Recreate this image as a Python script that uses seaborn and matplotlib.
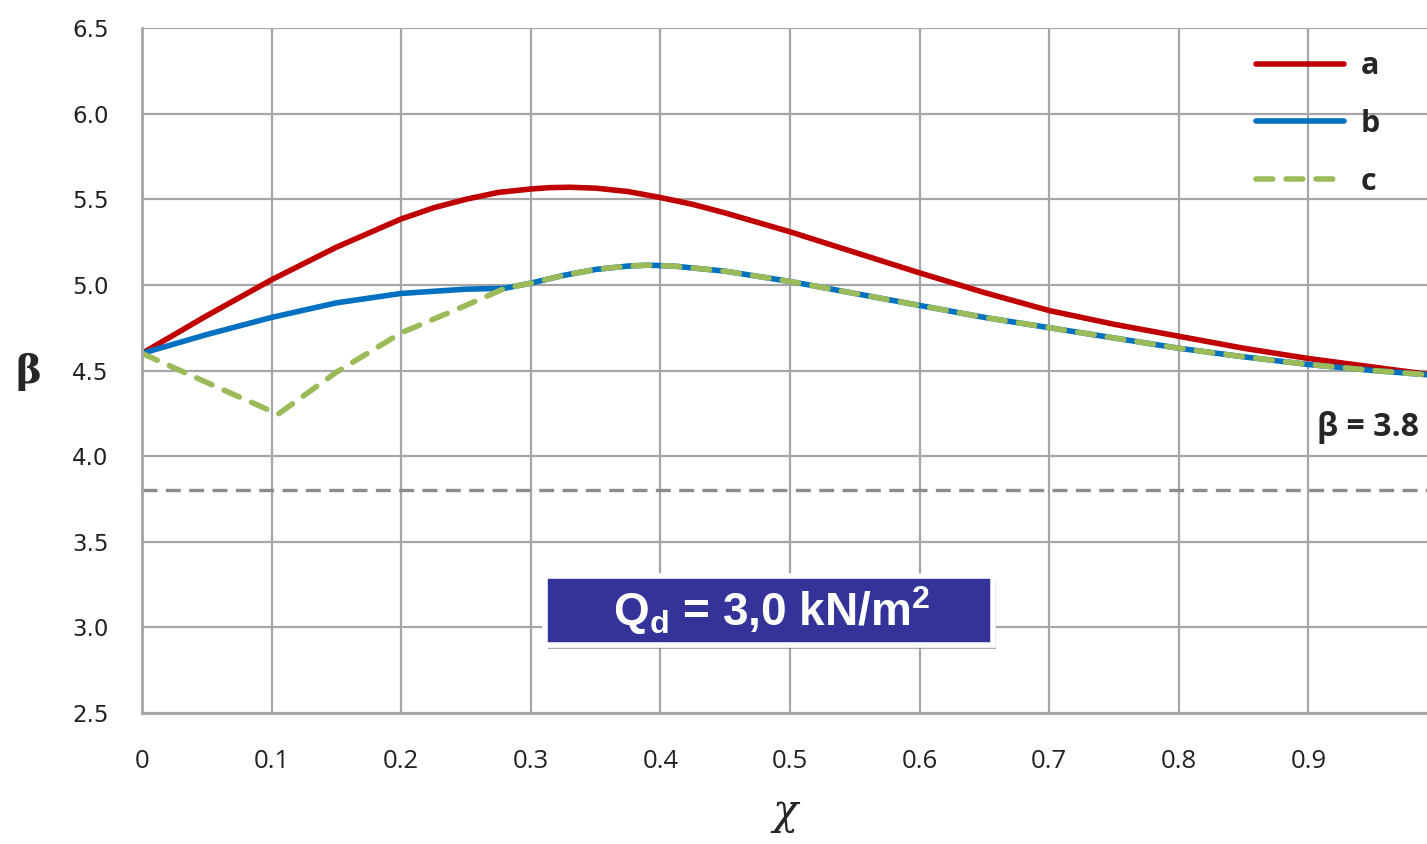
import numpy as np
import pandas as pd
import matplotlib
matplotlib.use("Agg")
import matplotlib.pyplot as plt
import matplotlib.patheffects as pe
from matplotlib.patches import Rectangle
import seaborn as sns

# values
x_a = [0, 0.05, 0.1, 0.15, 0.2, 0.225, 0.25, 0.275, 0.3, 0.315, 0.33, 0.35, 0.375,
       0.4, 0.425, 0.45, 0.475, 0.5, 0.55, 0.6, 0.65, 0.7, 0.75, 0.8, 0.85, 0.9,
       0.95, 1.0]
beta_a = [4.60, 4.82, 5.03, 5.22, 5.385, 5.45, 5.50, 5.54, 5.56, 5.568, 5.57, 5.565,
          5.545, 5.51, 5.47, 5.42, 5.365, 5.31, 5.19, 5.07, 4.955, 4.85, 4.77, 4.70,
          4.63, 4.57, 4.52, 4.47]

x_b = [0, 0.05, 0.1, 0.15, 0.2, 0.25, 0.28, 0.3, 0.325, 0.35, 0.375, 0.39, 0.41,
       0.45, 0.475, 0.5, 0.55, 0.6, 0.65, 0.7, 0.75, 0.8, 0.85, 0.9, 0.95, 1.0]
beta_b = [4.60, 4.71, 4.81, 4.895, 4.95, 4.975, 4.98, 5.01, 5.055, 5.09, 5.11, 5.115,
          5.11, 5.08, 5.05, 5.02, 4.95, 4.88, 4.81, 4.75, 4.69, 4.63, 4.58, 4.535,
          4.50, 4.47]

x_c = [0, 0.05, 0.105, 0.15, 0.2, 0.25, 0.28, 0.3, 0.325, 0.35, 0.375, 0.39, 0.41,
       0.45, 0.475, 0.5, 0.55, 0.6, 0.65, 0.7, 0.75, 0.8, 0.85, 0.9, 0.95, 1.0]
beta_c = [4.60, 4.43, 4.245, 4.49, 4.72, 4.88, 4.98, 5.01, 5.055, 5.09, 5.11, 5.115,
          5.11, 5.08, 5.05, 5.02, 4.95, 4.88, 4.81, 4.75, 4.69, 4.63, 4.58, 4.535,
          4.50, 4.47]

beta_target = 3.8
x_ticks = [0, 0.1, 0.2, 0.3, 0.4, 0.5, 0.6, 0.7, 0.8, 0.9]
x_tick_labels = ["0", "0.1", "0.2", "0.3", "0.4", "0.5", "0.6", "0.7", "0.8", "0.9"]
y_ticks = [2.5, 3.0, 3.5, 4.0, 4.5, 5.0, 5.5, 6.0, 6.5]

sns.set_theme(style="whitegrid")
plt.rcParams["font.family"] = ["DejaVu Sans"]
plt.rcParams["mathtext.fontset"] = "custom"
plt.rcParams["mathtext.rm"] = "Liberation Sans:bold"
plt.rcParams["mathtext.bf"] = "Liberation Sans:bold"

fig = plt.figure(figsize=(14.27, 8.44), dpi=100)
ax = fig.add_axes([142 / 1427, 131 / 844, 1 - 142 / 1427, 685 / 844])

red = "#C00000"
blue = "#0070C0"
green = "#9BBB59"

sns.lineplot(x=x_a, y=beta_a, ax=ax, color=red, lw=4, label="a", sort=False,
             solid_joinstyle="round")
sns.lineplot(x=x_b, y=beta_b, ax=ax, color=blue, lw=4, label="b", sort=False,
             solid_joinstyle="round")
sns.lineplot(x=x_c, y=beta_c, ax=ax, color=green, lw=4, label="c", sort=False,
             linestyle=(0, (3.0, 2.4)), dash_capstyle="round", dash_joinstyle="round")

ax.axhline(beta_target, color="#8c8c8c", lw=2.4, linestyle=(0, (4.5, 2.5)), zorder=1)

ax.set_xlim(0, (1427 - 142) / 1296)
ax.set_ylim(2.5, 6.5)
ax.set_xticks(x_ticks)
ax.set_xticklabels(x_tick_labels, fontsize=18.5, family="Open Sans")
ax.set_yticks(y_ticks)
ax.set_yticklabels([f"{v:.1f}" for v in y_ticks], fontsize=16.5)
ax.tick_params(axis="both", length=0, colors="#222222")
ax.tick_params(axis="y", pad=24)
ax.tick_params(axis="x", pad=26)

ax.grid(True, color="#a6a6a6", lw=1.6)
for s in ["top", "right"]:
    ax.spines[s].set_visible(False)
for s in ["left", "bottom"]:
    ax.spines[s].set_color("#a6a6a6")
    ax.spines[s].set_linewidth(2)

ax.set_xlabel("χ", fontsize=30, family="DejaVu Serif", style="italic")
ax.xaxis.set_label_coords((785 - 142) / 1285, -(812 - 713) / 685)
ax.set_ylabel("β", fontsize=28, family="DejaVu Serif", weight="bold", rotation=0)
ax.yaxis.set_label_coords(-(142 - 28) / 1285, (713 - 372) / 685)
ax.xaxis.label.set_va("center")
ax.yaxis.label.set_va("center")

ax.text(0.907, 4.17, "β = 3.8", fontsize=23, weight="bold", ha="left", va="center",
        family="Open Sans")

leg = ax.legend(loc="upper left", bbox_to_anchor=(1228 / 1427, 1 - 24 / 844),
                bbox_transform=fig.transFigure, frameon=False, fontsize=22,
                handlelength=2.9, labelspacing=0.9, handletextpad=0.55)
for t in leg.get_texts():
    t.set_fontweight("bold")
    t.set_family("Open Sans")

box = Rectangle((0.311, 2.897), 0.3456, 0.403, facecolor="#333399",
                edgecolor="white", lw=4, zorder=5)
box.set_path_effects([pe.withSimplePatchShadow(offset=(2, -3), shadow_rgbFace="#777777", alpha=0.6)])
ax.add_patch(box)
ax.text(0.486, 3.10, r"Q$_{\mathrm{d}}$ = 3,0 kN/m$^{\mathrm{2}}$", fontsize=33,
        color="white", weight="bold", family="Liberation Sans",
        ha="center", va="center", zorder=6)

fig.savefig("out.png", dpi=100)
